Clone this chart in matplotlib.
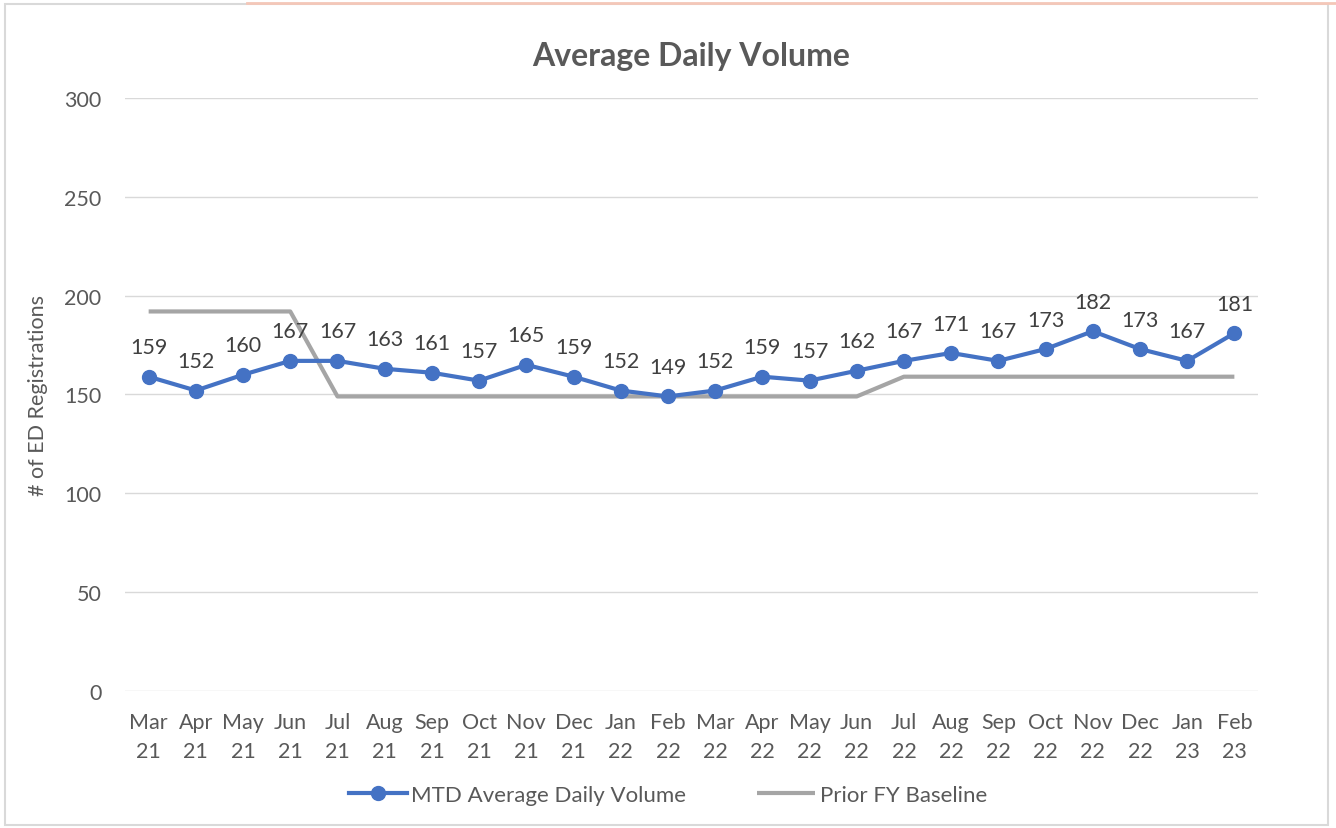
import matplotlib
matplotlib.use('Agg')
import matplotlib.pyplot as plt
from matplotlib.patches import Rectangle
from matplotlib.lines import Line2D

months = ['Mar\n21', 'Apr\n21', 'May\n21', 'Jun\n21', 'Jul\n21', 'Aug\n21',
          'Sep\n21', 'Oct\n21', 'Nov\n21', 'Dec\n21', 'Jan\n22', 'Feb\n22',
          'Mar\n22', 'Apr\n22', 'May\n22', 'Jun\n22', 'Jul\n22', 'Aug\n22',
          'Sep\n22', 'Oct\n22', 'Nov\n22', 'Dec\n22', 'Jan\n23', 'Feb\n23']
mtd_volume = [159, 152, 160, 167, 167, 163, 161, 157, 165, 159, 152, 149,
              152, 159, 157, 162, 167, 171, 167, 173, 182, 173, 167, 181]
baseline = [192, 192, 192, 192, 149, 149, 149, 149, 149, 149, 149, 149,
            149, 149, 149, 149, 159, 159, 159, 159, 159, 159, 159, 159]

plt.rcParams['font.family'] = ['Lato', 'DejaVu Sans']
TXT = '#595959'
BLUE = '#4472C4'
GRAY = '#A5A5A5'

fig = plt.figure(figsize=(13.36, 8.29), dpi=100)
ax = fig.add_axes([0.0936, 0.1653, 0.848, 0.7153])

# chart border, like the spreadsheet chart frame
fig.patches.append(Rectangle((0.004, 0.004), 0.99, 0.99, transform=fig.transFigure,
                             fill=False, edgecolor='#D9D9D9', linewidth=1.5))
fig.lines.append(Line2D([0.185, 1.0], [0.995, 0.995], transform=fig.transFigure,
                        color='#F4C7B8', linewidth=2))

x = list(range(len(months)))
ax.plot(x, baseline, color=GRAY, linewidth=3, solid_capstyle='butt',
        label='Prior FY Baseline', zorder=2)
ax.plot(x, mtd_volume, color=BLUE, linewidth=3, marker='o', markersize=10,
        label='MTD Average Daily Volume', zorder=3)

for xi, v in zip(x, mtd_volume):
    ax.annotate(str(v), (xi, v), xytext=(0, 14), textcoords='offset points',
                ha='center', va='bottom', fontsize=15.5, color='#404040')

ax.set_xlim(-0.5, len(months) - 0.5)
ax.set_ylim(0, 300)
ax.set_yticks(range(0, 301, 50))
ax.set_xticks(x)
ax.set_xticklabels(months, linespacing=1.6)
ax.tick_params(axis='both', length=0, labelsize=15.5, labelcolor=TXT)
ax.tick_params(axis='y', pad=17)
ax.tick_params(axis='x', pad=15)
ax.grid(axis='y', color='#D9D9D9', linewidth=1)
ax.set_axisbelow(True)
for s in ax.spines.values():
    s.set_visible(False)

ax.set_ylabel('# of ED Registrations', fontsize=15.5, color=TXT, labelpad=12)
ax.set_title('Average Daily Volume', fontsize=23, fontweight='bold', color=TXT, pad=24)

handles, labels = ax.get_legend_handles_labels()
fig.legend(handles[::-1], labels[::-1], loc='center', bbox_to_anchor=(0.5, 0.04),
           ncol=2, frameon=False, fontsize=16, labelcolor=TXT,
           handlelength=2.6, handletextpad=0.2, columnspacing=3.2)

fig.savefig('out.png', dpi=100)
